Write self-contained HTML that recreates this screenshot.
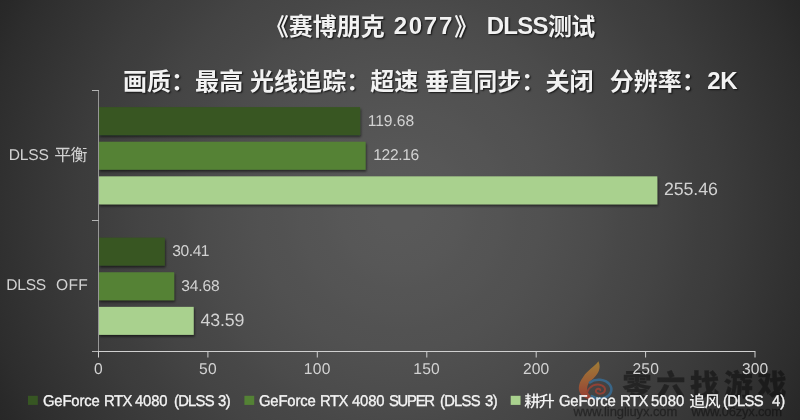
<!DOCTYPE html>
<html lang="zh-CN">
<head>
<meta charset="utf-8">
<title>《赛博朋克 2077》 DLSS测试</title>
<style>
html,body{margin:0;padding:0;background:#262626;}
body{width:800px;height:420px;overflow:hidden;}
#chart{position:relative;width:800px;height:420px;overflow:hidden;background:radial-gradient(circle 460px at 400px 210px,rgb(89,89,89) 0px,rgb(89,89,89) 20px,rgb(88,88,88) 40px,rgb(87,87,87) 60px,rgb(85,85,85) 80px,rgb(84,84,84) 100px,rgb(82,82,82) 120px,rgb(81,81,81) 140px,rgb(79,79,79) 160px,rgb(77,77,77) 180px,rgb(75,75,75) 200px,rgb(72,72,72) 220px,rgb(70,70,70) 240px,rgb(68,68,68) 260px,rgb(65,65,65) 280px,rgb(62,62,62) 300px,rgb(60,60,60) 320px,rgb(57,57,57) 340px,rgb(54,54,54) 360px,rgb(51,51,51) 380px,rgb(48,48,48) 400px,rgb(45,45,45) 420px,rgb(41,41,41) 440px,rgb(38,38,38) 460px);
  font-family:"Liberation Sans","Noto Sans CJK SC",sans-serif;}
#chart svg{position:absolute;left:0;top:0;}
.t{position:absolute;white-space:pre;line-height:1;}
.title{font-weight:bold;color:#f2f2f2;font-size:24px;text-shadow:1.2px 1.2px 1.6px rgba(0,0,0,.7);}
.lab{font-size:15.6px;color:#d2d2d2;text-rendering:geometricPrecision;}
.big{font-size:17.8px;}
.leg{font-size:15.6px;text-rendering:geometricPrecision;color:#f4f4f4;-webkit-text-stroke:0.35px #f4f4f4;transform:scaleX(0.95);transform-origin:0 0;}
.cjk{font-size:17px;}
.leg.cjk{font-size:16px;font-weight:500;transform:none;-webkit-text-stroke:0;}
.wm{color:#000;opacity:.42;font-weight:bold;-webkit-text-stroke:0.3px #000;}
</style>
</head>
<body>
<div id="chart">
<svg width="800" height="420" viewBox="0 0 800 420">
  <defs>
    <filter id="sh" x="-5%" y="-30%" width="110%" height="170%">
      <feDropShadow dx="0.8" dy="1.8" stdDeviation="1.3" flood-color="#000" flood-opacity="0.55"/>
    </filter>
  </defs>
  <g filter="url(#sh)">
    <rect x="99" y="107.15" width="261.2" height="28" fill="#375623"/>
    <rect x="99" y="141.75" width="266.6" height="28" fill="#548235"/>
    <rect x="99" y="176.35" width="558.3" height="28" fill="#a9d18e"/>
    <rect x="99" y="237.65" width="65.8" height="28" fill="#375623"/>
    <rect x="99" y="272.25" width="75.2" height="28" fill="#548235"/>
    <rect x="99" y="306.85" width="94.7" height="28" fill="#a9d18e"/>
  </g>
  <g fill="none" stroke-width="1">
    <path d="M98.5 90V351.5" stroke="#979797"/>
    <path d="M92 90.5H99M92 220.5H99M92 351.5H99" stroke="#b4b4b4"/>
    <path d="M98 351.5H755.5" stroke="#d0d0d0"/>
    <path d="M98.5 352V357.5M207.9 352V357.5M317.3 352V357.5M426.8 352V357.5M536.2 352V357.5M645.6 352V357.5M755.0 352V357.5" stroke="#d0d0d0"/>
  </g>
  <rect x="28" y="395.8" width="9.8" height="9.1" fill="#375623"/>
  <rect x="244.4" y="395.8" width="9.8" height="9.1" fill="#548235"/>
  <rect x="510.7" y="395.8" width="9.8" height="9.1" fill="#a9d18e"/>
</svg>
<svg width="800" height="420" viewBox="0 0 800 420">
  <defs>
    <linearGradient id="fl" x1="0" y1="0" x2="0" y2="1">
      <stop offset="0" stop-color="#cf9a30"/>
      <stop offset="0.5" stop-color="#c96c2e"/>
      <stop offset="1" stop-color="#c03a2b"/>
    </linearGradient>
  </defs>
  <g transform="translate(572 356) scale(0.119)" opacity="0.66">
    <path d="M222 45C195 85 130 120 95 175C50 235 45 290 80 330C112 365 170 375 215 358C175 352 145 335 132 300C118 260 135 225 172 195C215 160 250 105 222 45Z" fill="url(#fl)"/>
    <path d="M130 300C150 250 200 228 250 246C290 262 285 308 245 316C210 322 192 300 205 282C215 270 238 274 238 288" fill="none" stroke="#b9402f" stroke-width="16" stroke-linecap="round"/>
    <path d="M150 222C195 188 282 190 320 245C347 290 322 337 265 352C230 360 190 354 165 337" fill="none" stroke="#3579ad" stroke-width="21" stroke-linecap="round"/>
  </g>
</svg>
<div class="t wm" id="wm1" style="left:622.4px;top:372px;font-size:29px;letter-spacing:4.75px;font-weight:900;">零六找游戏</div>
<div class="t wm" id="u1" style="left:573.4px;top:405px;font-size:13px;font-weight:normal;letter-spacing:-0.1px;">www.lingliuyx.com</div>
<div class="t wm" id="u2" style="left:691.6px;top:405px;font-size:13px;font-weight:normal;letter-spacing:-0.22px;">www.06zyx.com</div>
<div class="t title" id="s1" style="left:264.81px;top:15.00px;letter-spacing:-0.02px;">《赛博朋克</div>
<div class="t title" id="s2" style="left:393.69px;top:14.20px;letter-spacing:1.73px;">2077</div>
<div class="t title" id="s3" style="left:454.21px;top:15.00px;">》</div>
<div class="t title" id="s4" style="left:486.71px;top:14.20px;letter-spacing:-0.77px;">DLSS</div>
<div class="t title" id="s5" style="left:548.04px;top:15.00px;letter-spacing:-0.72px;">测试</div>
<div class="t title" id="a1" style="left:122.94px;top:70.00px;letter-spacing:0.06px;">画质：最高 光线追踪：超速 垂直同步：关闭</div>
<div class="t title" id="a2" style="left:609.75px;top:70.00px;">分辨率：</div>
<div class="t title" id="a3" style="left:707.25px;top:69.10px;letter-spacing:-0.40px;">2K</div>
<div class="t lab" id="c1a" style="left:8.85px;top:148.00px;letter-spacing:-0.25px;">DLSS</div>
<div class="t lab cjk" id="c1b" style="left:54.23px;top:146.75px;letter-spacing:-0.76px;">平衡</div>
<div class="t lab" id="c2a" style="left:6.37px;top:278.00px;letter-spacing:-0.32px;">DLSS</div>
<div class="t lab" id="c2b" style="left:56.07px;top:278.00px;letter-spacing:0.21px;">OFF</div>
<div class="t lab" id="v1" style="left:367.63px;top:114.20px;">119.68</div>
<div class="t lab" id="v2" style="left:373.29px;top:147.80px;letter-spacing:-0.36px;">122.16</div>
<div class="t lab big" id="v3" style="left:664.10px;top:180.86px;letter-spacing:-0.14px;">255.46</div>
<div class="t lab" id="v4" style="left:172.29px;top:244.00px;letter-spacing:-0.44px;">30.41</div>
<div class="t lab" id="v5" style="left:181.29px;top:279.00px;letter-spacing:-0.18px;">34.68</div>
<div class="t lab big" id="v6" style="left:200.52px;top:312.01px;letter-spacing:-0.16px;">43.59</div>
<div class="t lab" id="k0" style="left:94.04px;top:362.30px;">0</div>
<div class="t lab" id="k1" style="left:198.95px;top:362.30px;letter-spacing:0.39px;">50</div>
<div class="t lab" id="k2" style="left:303.68px;top:362.30px;letter-spacing:0.32px;">100</div>
<div class="t lab" id="k3" style="left:413.25px;top:362.30px;letter-spacing:0.23px;">150</div>
<div class="t lab" id="k4" style="left:523.00px;top:362.30px;letter-spacing:0.10px;">200</div>
<div class="t lab" id="k5" style="left:632.44px;top:362.30px;letter-spacing:0.19px;">250</div>
<div class="t lab" id="k6" style="left:741.92px;top:362.30px;letter-spacing:0.11px;">300</div>
<div class="t leg" id="l1a" style="left:42.68px;top:393.50px;letter-spacing:-0.16px;">GeForce</div>
<div class="t leg" id="l1b" style="left:103.74px;top:393.50px;letter-spacing:-0.51px;">RTX</div>
<div class="t leg" id="l1c" style="left:135.40px;top:393.50px;letter-spacing:-0.14px;">4080</div>
<div class="t leg" id="l1d" style="left:173.79px;top:393.50px;letter-spacing:-0.81px;">(DLSS</div>
<div class="t leg" id="l1e" style="left:218.18px;top:393.50px;letter-spacing:-0.44px;">3)</div>
<div class="t leg" id="l2a" style="left:259.48px;top:393.50px;letter-spacing:-0.16px;">GeForce</div>
<div class="t leg" id="l2b" style="left:319.74px;top:393.50px;letter-spacing:-0.51px;">RTX</div>
<div class="t leg" id="l2c" style="left:351.70px;top:393.50px;letter-spacing:-0.14px;">4080</div>
<div class="t leg" id="l2d" style="left:389.48px;top:393.50px;letter-spacing:-1.34px;">SUPER</div>
<div class="t leg" id="l2e" style="left:440.29px;top:393.50px;letter-spacing:-0.81px;">(DLSS</div>
<div class="t leg" id="l2f" style="left:484.58px;top:393.50px;letter-spacing:-0.44px;">3)</div>
<div class="t leg" id="l3b" style="left:558.68px;top:393.50px;letter-spacing:-0.16px;">GeForce</div>
<div class="t leg" id="l3c" style="left:620.14px;top:393.50px;letter-spacing:-0.51px;">RTX</div>
<div class="t leg" id="l3d" style="left:651.01px;top:393.50px;letter-spacing:0.13px;">5080</div>
<div class="t leg" id="l3f" style="left:722.99px;top:393.50px;letter-spacing:-0.81px;">(DLSS</div>
<div class="t leg" id="l3g" style="left:771.70px;top:393.50px;letter-spacing:-0.09px;">4)</div>
<div class="t leg cjk" id="l3a" style="left:524.35px;top:395.20px;letter-spacing:-1.52px;">耕升</div>
<div class="t leg cjk" id="l3e" style="left:689.32px;top:395.20px;letter-spacing:-0.89px;">追风</div>
</div>
</body>
</html>
